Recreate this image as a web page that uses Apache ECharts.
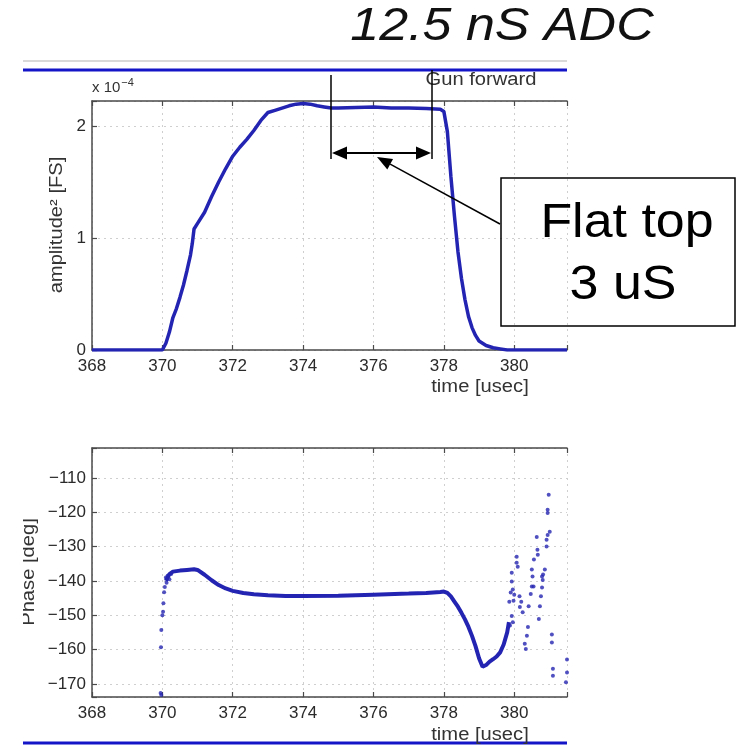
<!DOCTYPE html>
<html><head><meta charset="utf-8">
<script src="https://cdn.jsdelivr.net/npm/echarts@6/dist/echarts.min.js"></script>
<style>html,body{margin:0;padding:0;background:#fff}#c{width:738px;height:745px}</style>
</head><body><div id="c"></div>
<script>
// ---- data ----
const xTicks = [368, 370, 372, 374, 376, 378, 380];
const ampTicks = [0, 1, 2];
const phaseTicks = [-170, -160, -150, -140, -130, -120, -110];

// amplitude^2 in units of 1e-4 FS
const ampTime = [368,369,369.9,370,370.1,370.2,370.3,370.4,370.5,370.6,370.7,370.8,370.85,370.9,371,371.2,371.4,371.6,371.8,372,372.2,372.4,372.6,372.8,373,373.2,373.4,373.6,373.8,374,374.2,374.4,374.6,374.8,375,375.5,376,376.5,377,377.5,377.9,378,378.1,378.2,378.3,378.4,378.5,378.6,378.7,378.8,378.9,379,379.2,379.4,379.6,379.8,380,381.5];
const ampValue = [0,0,0,0,0.06,0.16,0.29,0.37,0.47,0.58,0.71,0.85,0.95,1.08,1.13,1.23,1.37,1.5,1.62,1.73,1.81,1.88,1.96,2.05,2.12,2.14,2.16,2.18,2.195,2.2,2.195,2.18,2.17,2.16,2.16,2.165,2.17,2.16,2.16,2.155,2.15,2.13,1.95,1.55,1.2,0.88,0.64,0.45,0.3,0.2,0.13,0.08,0.04,0.02,0.01,0,0,0];

// phase main trace [deg]
const phaseTime = [370.1,370.2,370.3,370.5,370.7,370.9,371,371.2,371.4,371.6,371.8,372,372.3,372.6,373,373.5,374,375,376,377,377.5,377.9,378,378.1,378.2,378.3,378.4,378.5,378.6,378.7,378.8,378.9,379,379.1,379.2,379.3,379.4,379.5,379.6,379.7,379.8,379.85];
const phaseValue = [-140,-138,-137.3,-137,-136.8,-136.6,-136.8,-138.2,-139.8,-141.2,-142.2,-142.9,-143.5,-143.9,-144.2,-144.4,-144.4,-144.3,-144,-143.7,-143.5,-143.2,-143.1,-143.5,-144.5,-146,-147.5,-149.3,-151.2,-153.4,-156,-159,-162.5,-165,-164.5,-163.5,-162.8,-162,-160.8,-158.5,-155,-152];

// phase scattered samples [deg]
const scatTime = [369.95,369.97,369.96,369.97,370.0,370.02,370.03,370.05,370.07,370.1,370.12,370.15,370.2,370.25,
  380.98,380.95,380.95,381.01,380.95,380.92,380.92,380.64,380.66,380.67,380.56,380.87,380.82,380.79,380.5,380.52,380.5,380.47,380.55,380.81,380.79,380.76,380.73,380.7,380.41,380.07,380.07,380.1,379.93,379.93,379.96,379.9,380.0,379.98,379.86,380.15,380.2,380.16,380.24,379.93,379.96,379.88,380.39,380.36,380.3,380.33,381.07,381.07,381.1,381.1,381.5,381.5,381.47];
const scatPhase = [-172.6,-173.2,-159.3,-154.3,-150,-149,-146.5,-143.3,-141.8,-139,-140.5,-138.5,-139.5,-138,
  -114.9,-119.3,-120.2,-125.7,-126.6,-128,-130,-127.2,-130.9,-132.4,-133.8,-136.7,-138.1,-138.7,-136.7,-138.7,-141.6,-143.8,-141.6,-139.7,-141.9,-144.5,-147.4,-151.1,-147.4,-133,-134.7,-135.9,-137.6,-140.2,-142.5,-143.4,-144,-145.8,-146.1,-144.5,-146.1,-147.6,-149.1,-150.2,-152,-153,-153.4,-156,-158.3,-159.8,-155.6,-157.9,-165.6,-167.6,-162.9,-166.7,-169.5];

// ---- chart ----
const FONT = 'Liberation Sans';
const BLUE = '#2424b2';
const AXC = '#4a4a4a';
const zip = (a, b) => a.map((v, i) => [v, b[i]]);
const isTick = (list) => (v) => { const r = Math.round(v * 1000) / 1000; return list.includes(r) ? String(r).replace('-', '\u2212') : ''; };

function xAx(grid, pos) {
  const bottom = pos === 'bottom';
  return {
    type: 'value', gridIndex: grid, position: pos, min: 368, max: 381.5, interval: 2,
    axisLine: { show: true, onZero: false, lineStyle: { color: AXC, width: 1.5 } },
    axisTick: { show: true, inside: true, length: 5, lineStyle: { color: AXC, width: 1.2 } },
    axisLabel: { show: bottom, formatter: isTick(xTicks), fontFamily: FONT, fontSize: 17, color: '#2a2a2a', margin: 8 },
    splitLine: { show: bottom, lineStyle: { type: [2, 4], color: '#cfcfcf', width: 1 } }
  };
}
function yAx(grid, min, max, ticks, spacing) {
  const ax = {
    type: 'value', gridIndex: grid, min: min, max: max,
    axisLine: { show: true, onZero: false, lineStyle: { color: AXC, width: 1.5 } },
    axisTick: { show: true, inside: true, length: 5, lineStyle: { color: AXC, width: 1.2 } },
    axisLabel: { formatter: isTick(ticks), fontFamily: FONT, fontSize: 17, color: '#2a2a2a', margin: 6 },
    splitLine: { show: true, lineStyle: { type: [2, 4], color: '#cfcfcf', width: 1 } }
  };
  if (min % spacing === 0) ax.interval = spacing; else ax.splitNumber = 7;
  return ax;
}

function label(x, y, text, size, opts) {
  opts = opts || {};
  return {
    type: 'text', x: x, y: y, z: opts.z || 50, rotation: opts.rotation || 0, scaleX: opts.scaleX || 1,
    style: { text: text, fontFamily: FONT, fontStyle: opts.italic ? 'italic' : 'normal', fontSize: size,
      fill: opts.fill || '#333', align: 'center', verticalAlign: 'middle' }
  };
}

// diagonal arrow geometry (annotation layout)
const ax0 = 500, ay0 = 224, ax1 = 377, ay1 = 157;
const dl = Math.hypot(ax1 - ax0, ay1 - ay0), dx = (ax1 - ax0) / dl, dy = (ay1 - ay0) / dl;
const hb = [ax1 - 15 * dx, ay1 - 15 * dy];
const head = [[ax1, ay1], [hb[0] - 6 * dy, hb[1] + 6 * dx], [hb[0] + 6 * dy, hb[1] - 6 * dx]];

const option = {
  animation: false,
  backgroundColor: '#fff',
  grid: [
    { left: 92, top: 101, width: 475, height: 249 },
    { left: 92, top: 448, width: 475, height: 249 }
  ],
  xAxis: [xAx(0, 'bottom'), xAx(0, 'top'), xAx(1, 'bottom'), xAx(1, 'top')],
  yAxis: [yAx(0, 0, 2.223, ampTicks, 1), yAx(1, -173.8, -101.3, phaseTicks, 10)],
  series: [
    { type: 'line', xAxisIndex: 0, yAxisIndex: 0, data: zip(ampTime, ampValue), showSymbol: false, silent: true,
      lineStyle: { color: BLUE, width: 3.5 } },
    { type: 'line', xAxisIndex: 2, yAxisIndex: 1, data: zip(phaseTime, phaseValue), showSymbol: false, silent: true,
      lineStyle: { color: BLUE, width: 4 } },
    { type: 'scatter', xAxisIndex: 2, yAxisIndex: 1, data: zip(scatTime, scatPhase), symbolSize: 4, silent: true,
      itemStyle: { color: BLUE } }
  ],
  graphic: [
    { type: 'line', z: 40, shape: { x1: 23, y1: 61, x2: 567, y2: 61 }, style: { stroke: '#d9d9d9', lineWidth: 2 } },
    { type: 'line', z: 40, shape: { x1: 23, y1: 70, x2: 567, y2: 70 }, style: { stroke: '#1515c8', lineWidth: 3 } },
    { type: 'line', z: 40, shape: { x1: 23, y1: 743, x2: 567, y2: 743 }, style: { stroke: '#1515c8', lineWidth: 3 } },
    label(502, 27, '12.5 nS ADC', 46, { italic: true, scaleX: 1.13, fill: '#111' }),
    label(481, 80, 'Gun forward', 18, { scaleX: 1.12 }),
    { type: 'text', x: 92, y: 88, z: 50, style: { text: '{a|x 10}{b|\u22124}', fontFamily: FONT, align: 'left', verticalAlign: 'middle',
        rich: { a: { fontSize: 15, fill: '#333', fontFamily: FONT }, b: { fontSize: 11, fill: '#333', fontFamily: FONT, padding: [0, 0, 10, 1] } } } },
    label(57, 225, 'amplitude\u00b2 [FS]', 18, { rotation: Math.PI / 2, scaleX: 1.12 }),
    label(480, 387, 'time [usec]', 18, { scaleX: 1.12 }),
    label(29, 572, 'Phase [deg]', 18, { rotation: Math.PI / 2, scaleX: 1.12 }),
    { type: 'rect', z: 60, shape: { x: 0, y: 440, width: 23, height: 305 }, style: { fill: '#fff' } },
    label(480, 735, 'time [usec]', 18, { scaleX: 1.12 }),
    // flat-top markers
    { type: 'line', z: 70, shape: { x1: 331, y1: 75, x2: 331, y2: 159 }, style: { stroke: '#000', lineWidth: 1.5 } },
    { type: 'line', z: 70, shape: { x1: 432, y1: 70, x2: 432, y2: 159 }, style: { stroke: '#000', lineWidth: 1.5 } },
    { type: 'line', z: 70, shape: { x1: 340, y1: 153, x2: 424, y2: 153 }, style: { stroke: '#000', lineWidth: 2 } },
    { type: 'polygon', z: 70, shape: { points: [[332, 153], [347, 146.5], [347, 159.5]] }, style: { fill: '#000' } },
    { type: 'polygon', z: 70, shape: { points: [[431, 153], [416, 146.5], [416, 159.5]] }, style: { fill: '#000' } },
    { type: 'line', z: 70, shape: { x1: ax0, y1: ay0, x2: hb[0], y2: hb[1] }, style: { stroke: '#000', lineWidth: 1.5 } },
    { type: 'polygon', z: 70, shape: { points: head }, style: { fill: '#000' } },
    { type: 'rect', z: 70, shape: { x: 501, y: 178, width: 234, height: 148 }, style: { fill: 'none', stroke: '#000', lineWidth: 1.5 } },
    label(627, 223, 'Flat top', 49, { scaleX: 1.06, fill: '#000', z: 70 }),
    label(623, 285, '3 uS', 49, { scaleX: 1.06, fill: '#000', z: 70 })
  ]
};
const chart = echarts.init(document.getElementById('c'), null, { renderer: 'canvas' });
chart.setOption(option);
</script>
</body></html>
